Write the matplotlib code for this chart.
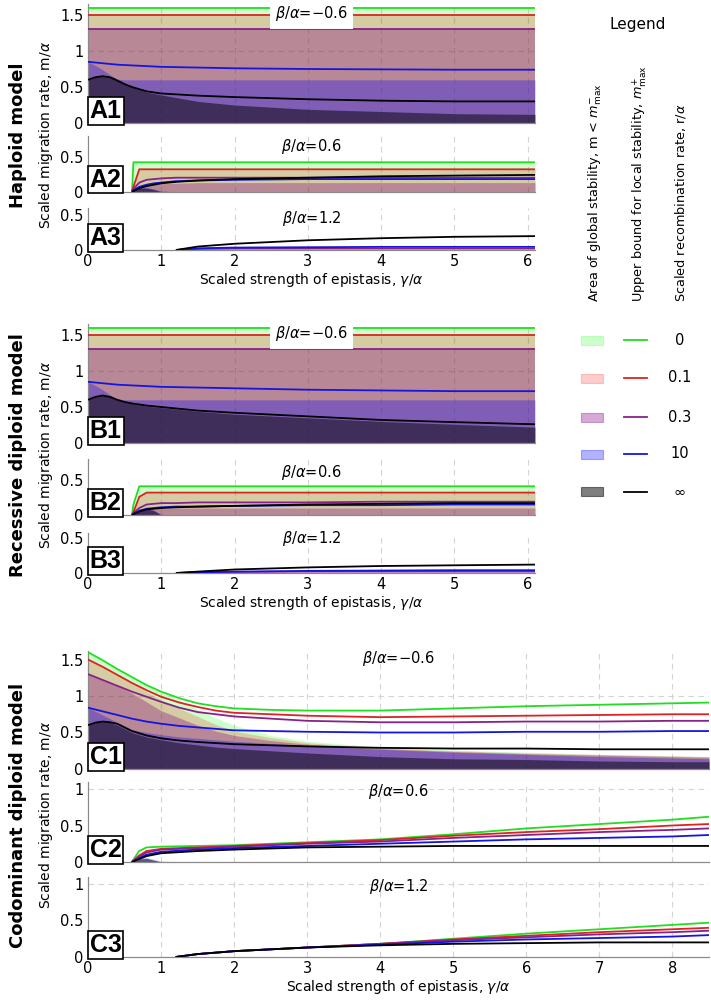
import numpy as np
import matplotlib
matplotlib.use('Agg')
import matplotlib.pyplot as plt
from matplotlib.patches import Rectangle
from matplotlib.lines import Line2D

plt.rcParams['font.family'] = ['DejaVu Sans']
plt.rcParams['mathtext.fontset'] = 'dejavusans'

# recombination rates r/alpha, order: 0, 0.1, 0.3, 10, inf
r_labels = ['0', '0.1', '0.3', '10', '\u221e']
line_colors = ['#22dd22', '#dd2222', '#882288', '#1515e0', '#000000']
fill_colors = ['#00ff00', '#ff0000', '#800080', '#0000ff', '#000000']
fill_alphas = [0.2, 0.2, 0.33, 0.3, 0.5]
nan = np.nan

# ---- haploid / recessive, beta = -0.6 ----
x_ab1 = [0, 0.1, 0.2, 0.3, 0.4, 0.5, 0.6, 0.8, 1, 1.5, 2, 3, 4, 5, 6.1]
a1_lines = [
    [1.6, 1.6, 1.6, 1.6, 1.6, 1.6, 1.6, 1.6, 1.6, 1.6, 1.6, 1.6, 1.6, 1.6, 1.6],
    [1.5, 1.5, 1.5, 1.5, 1.5, 1.5, 1.5, 1.5, 1.5, 1.5, 1.5, 1.5, 1.5, 1.5, 1.5],
    [1.3, 1.3, 1.3, 1.3, 1.3, 1.3, 1.3, 1.3, 1.3, 1.3, 1.3, 1.3, 1.3, 1.3, 1.3],
    [0.85, 0.84, 0.83, 0.82, 0.81, 0.805, 0.8, 0.79, 0.78, 0.77, 0.76, 0.75, 0.745, 0.74, 0.74],
    [0.6, 0.635, 0.65, 0.635, 0.59, 0.54, 0.5, 0.44, 0.41, 0.38, 0.36, 0.33, 0.31, 0.3, 0.3],
]
a1_fills = [
    [1.6, 1.6, 1.6, 1.6, 1.6, 1.6, 1.6, 1.6, 1.6, 1.6, 1.6, 1.6, 1.6, 1.6, 1.6],
    [1.5, 1.5, 1.5, 1.5, 1.5, 1.5, 1.5, 1.5, 1.5, 1.5, 1.5, 1.5, 1.5, 1.5, 1.5],
    [1.3, 1.3, 1.3, 1.3, 1.3, 1.3, 1.3, 1.3, 1.3, 1.3, 1.3, 1.3, 1.3, 1.3, 1.3],
    [0.85, 0.8, 0.74, 0.67, 0.61, 0.6, 0.6, 0.6, 0.6, 0.6, 0.6, 0.6, 0.6, 0.6, 0.6],
    [0.6, 0.635, 0.65, 0.635, 0.59, 0.54, 0.5, 0.43, 0.39, 0.3, 0.25, 0.19, 0.16, 0.13, 0.12],
]
b1_lines = [
    [1.6, 1.6, 1.6, 1.6, 1.6, 1.6, 1.6, 1.6, 1.6, 1.6, 1.6, 1.6, 1.6, 1.6, 1.6],
    [1.5, 1.5, 1.5, 1.5, 1.5, 1.5, 1.5, 1.5, 1.5, 1.5, 1.5, 1.5, 1.5, 1.5, 1.5],
    [1.3, 1.3, 1.3, 1.3, 1.3, 1.3, 1.3, 1.3, 1.3, 1.3, 1.3, 1.3, 1.3, 1.3, 1.3],
    [0.85, 0.84, 0.83, 0.82, 0.81, 0.805, 0.8, 0.79, 0.78, 0.77, 0.76, 0.74, 0.73, 0.72, 0.72],
    [0.6, 0.64, 0.66, 0.64, 0.6, 0.57, 0.55, 0.52, 0.5, 0.45, 0.42, 0.37, 0.32, 0.29, 0.26],
]
b1_fills = [
    [1.6, 1.6, 1.6, 1.6, 1.6, 1.6, 1.6, 1.6, 1.6, 1.6, 1.6, 1.6, 1.6, 1.6, 1.6],
    [1.5, 1.5, 1.5, 1.5, 1.5, 1.5, 1.5, 1.5, 1.5, 1.5, 1.5, 1.5, 1.5, 1.5, 1.5],
    [1.3, 1.3, 1.3, 1.3, 1.3, 1.3, 1.3, 1.3, 1.3, 1.3, 1.3, 1.3, 1.3, 1.3, 1.3],
    [0.85, 0.8, 0.74, 0.67, 0.61, 0.6, 0.6, 0.6, 0.6, 0.6, 0.6, 0.6, 0.6, 0.6, 0.6],
    [0.6, 0.64, 0.66, 0.64, 0.6, 0.57, 0.55, 0.51, 0.49, 0.44, 0.4, 0.35, 0.3, 0.26, 0.22],
]

# ---- beta = 0.6 ----
x_ab2 = [0, 0.6, 0.62, 0.7, 0.8, 0.9, 1.0, 1.2, 1.5, 2, 3, 4, 5, 6.1]
a2_lines = [
    [nan, 0, 0.42, 0.42, 0.42, 0.42, 0.42, 0.42, 0.42, 0.42, 0.42, 0.42, 0.42, 0.42],
    [nan, 0, 0.07, 0.32, 0.32, 0.32, 0.32, 0.32, 0.32, 0.32, 0.32, 0.32, 0.32, 0.32],
    [nan, 0, 0.04, 0.13, 0.17, 0.18, 0.19, 0.2, 0.2, 0.2, 0.2, 0.2, 0.2, 0.2],
    [nan, 0, 0.02, 0.07, 0.1, 0.12, 0.13, 0.15, 0.16, 0.17, 0.18, 0.18, 0.18, 0.18],
    [nan, 0, 0.01, 0.05, 0.08, 0.1, 0.12, 0.14, 0.16, 0.18, 0.2, 0.22, 0.23, 0.24],
]
a2_fills = [
    [0, 0, 0.42, 0.42, 0.42, 0.42, 0.42, 0.42, 0.42, 0.42, 0.42, 0.42, 0.42, 0.42],
    [0, 0, 0.07, 0.32, 0.32, 0.32, 0.32, 0.32, 0.32, 0.32, 0.32, 0.32, 0.32, 0.32],
    [0, 0, 0.02, 0.08, 0.1, 0.11, 0.12, 0.12, 0.13, 0.13, 0.13, 0.13, 0.13, 0.13],
    [0, 0, 0.03, 0.06, 0.06, 0.04, 0.01, 0, 0, 0, 0, 0, 0, 0],
    [0, 0, 0.02, 0.05, 0.05, 0.03, 0, 0, 0, 0, 0, 0, 0, 0],
]
b2_lines = [
    [nan, 0, 0.15, 0.41, 0.41, 0.41, 0.41, 0.41, 0.41, 0.41, 0.41, 0.41, 0.41, 0.41],
    [nan, 0, 0.04, 0.26, 0.32, 0.32, 0.32, 0.32, 0.32, 0.32, 0.32, 0.32, 0.32, 0.32],
    [nan, 0, 0.03, 0.1, 0.15, 0.16, 0.17, 0.17, 0.18, 0.18, 0.18, 0.19, 0.19, 0.19],
    [nan, 0, 0.02, 0.06, 0.09, 0.1, 0.11, 0.12, 0.12, 0.13, 0.14, 0.14, 0.15, 0.15],
    [nan, 0, 0.01, 0.05, 0.08, 0.09, 0.1, 0.11, 0.12, 0.13, 0.15, 0.16, 0.17, 0.17],
]
b2_fills = [
    [0, 0, 0.15, 0.41, 0.41, 0.41, 0.41, 0.41, 0.41, 0.41, 0.41, 0.41, 0.41, 0.41],
    [0, 0, 0.04, 0.26, 0.32, 0.32, 0.32, 0.32, 0.32, 0.32, 0.32, 0.32, 0.32, 0.32],
    [0, 0, 0.02, 0.07, 0.09, 0.1, 0.1, 0.1, 0.1, 0.1, 0.1, 0.1, 0.1, 0.1],
    [0, 0, 0.03, 0.09, 0.1, 0.07, 0.01, 0, 0, 0, 0, 0, 0, 0],
    [0, 0, 0.02, 0.08, 0.09, 0.06, 0, 0, 0, 0, 0, 0, 0, 0],
]

# ---- beta = 1.2 ----
x_ab3 = [0, 1.2, 1.5, 2, 3, 4, 5, 6.1]
a3_lines = [
    None,
    None,
    [nan, 0, 0.015, 0.02, 0.02, 0.02, 0.02, 0.02],
    [nan, 0, 0.025, 0.035, 0.04, 0.045, 0.045, 0.045],
    [nan, 0, 0.05, 0.09, 0.14, 0.17, 0.19, 0.2],
]
b3_lines = [
    None,
    None,
    [nan, 0, 0.01, 0.015, 0.02, 0.02, 0.02, 0.02],
    [nan, 0, 0.01, 0.02, 0.03, 0.035, 0.04, 0.04],
    [nan, 0, 0.02, 0.05, 0.08, 0.1, 0.11, 0.12],
]

# ---- codominant ----
x_c1 = [0, 0.1, 0.2, 0.3, 0.4, 0.6, 0.8, 1, 1.25, 1.5, 1.75, 2, 2.5, 3, 4, 5, 6, 7, 8, 8.5]
c1_lines = [
    [1.6, 1.545, 1.49, 1.43, 1.37, 1.26, 1.15, 1.06, 0.97, 0.9, 0.86, 0.83, 0.81, 0.8, 0.8,
     0.83, 0.86, 0.88, 0.9, 0.91],
    [1.5, 1.45, 1.4, 1.345, 1.29, 1.18, 1.08, 0.99, 0.91, 0.85, 0.8, 0.77, 0.75, 0.73, 0.71,
     0.72, 0.73, 0.74, 0.75, 0.75],
    [1.3, 1.26, 1.22, 1.18, 1.14, 1.06, 0.99, 0.92, 0.84, 0.78, 0.75, 0.72, 0.69, 0.66, 0.64,
     0.64, 0.65, 0.65, 0.66, 0.66],
    [0.84, 0.815, 0.79, 0.765, 0.74, 0.69, 0.65, 0.62, 0.59, 0.57, 0.55, 0.53, 0.52, 0.51, 0.5,
     0.5, 0.51, 0.51, 0.52, 0.52],
    [0.6, 0.635, 0.65, 0.64, 0.62, 0.52, 0.46, 0.42, 0.39, 0.37, 0.355, 0.34, 0.325, 0.31, 0.29,
     0.28, 0.28, 0.27, 0.27, 0.27],
]
c1_fills = [
    [1.6, 1.54, 1.48, 1.43, 1.37, 1.25, 1.15, 1.05, 0.95, 0.82, 0.7, 0.6, 0.46, 0.38, 0.3,
     0.26, 0.23, 0.2, 0.18, 0.17],
    [1.5, 1.45, 1.4, 1.345, 1.29, 1.18, 1.06, 0.95, 0.83, 0.72, 0.61, 0.52, 0.43, 0.36, 0.29,
     0.25, 0.22, 0.2, 0.18, 0.17],
    [1.3, 1.26, 1.22, 1.18, 1.14, 1.04, 0.92, 0.8, 0.7, 0.6, 0.52, 0.46, 0.39, 0.34, 0.28,
     0.24, 0.21, 0.19, 0.17, 0.16],
    [0.84, 0.79, 0.74, 0.69, 0.64, 0.54, 0.5, 0.47, 0.44, 0.42, 0.4, 0.38, 0.35, 0.32, 0.27,
     0.23, 0.2, 0.17, 0.15, 0.14],
    [0.6, 0.635, 0.65, 0.635, 0.6, 0.5, 0.44, 0.4, 0.36, 0.33, 0.3, 0.28, 0.25, 0.22, 0.17,
     0.14, 0.13, 0.11, 0.1, 0.1],
]
x_c2 = [0, 0.6, 0.7, 0.8, 1, 1.5, 2, 3, 4, 5, 6, 7, 8, 8.5]
c2_lines = [
    [nan, 0, 0.15, 0.2, 0.21, 0.22, 0.23, 0.27, 0.31, 0.38, 0.46, 0.52, 0.58, 0.62],
    [nan, 0, 0.09, 0.15, 0.18, 0.2, 0.22, 0.26, 0.3, 0.36, 0.41, 0.45, 0.5, 0.52],
    [nan, 0, 0.07, 0.13, 0.17, 0.19, 0.21, 0.25, 0.28, 0.33, 0.37, 0.41, 0.44, 0.46],
    [nan, 0, 0.05, 0.1, 0.14, 0.17, 0.19, 0.22, 0.25, 0.28, 0.31, 0.33, 0.35, 0.37],
    [nan, 0, 0.04, 0.08, 0.12, 0.15, 0.17, 0.2, 0.21, 0.22, 0.22, 0.22, 0.22, 0.22],
]
c2_fills = [
    None,
    None,
    None,
    [0, 0, 0.05, 0.06, 0.01, 0, 0, 0, 0, 0, 0, 0, 0, 0],
    [0, 0, 0.04, 0.05, 0, 0, 0, 0, 0, 0, 0, 0, 0, 0],
]
x_c3 = [0, 1.2, 1.5, 2, 3, 4, 5, 6, 7, 8, 8.5]
c3_lines = [
    [nan, 0, 0.04, 0.08, 0.13, 0.18, 0.25, 0.32, 0.38, 0.44, 0.47],
    [nan, 0, 0.04, 0.08, 0.13, 0.18, 0.24, 0.29, 0.34, 0.38, 0.4],
    [nan, 0, 0.04, 0.08, 0.13, 0.18, 0.23, 0.27, 0.31, 0.34, 0.36],
    [nan, 0, 0.04, 0.08, 0.13, 0.17, 0.21, 0.24, 0.26, 0.28, 0.3],
    [nan, 0, 0.04, 0.08, 0.13, 0.16, 0.18, 0.19, 0.2, 0.2, 0.2],
]

W, H = 711, 1000
fig = plt.figure(figsize=(7.11, 10), dpi=100)


def make_ax(left, right, y0, ymax, ppu):
    # pixel geometry -> figure fraction
    h = ymax * ppu
    return fig.add_axes([left / W, 1 - y0 / H, (right - left) / W, h / H])


def panel(ax, x, lines, fills, xmax, ymax, yticks, label, beta, bpos, boxed=False,
          xlabels=False):
    ax.set_xlim(0, xmax)
    ax.set_ylim(0, ymax)
    for gx in range(1, int(xmax) + 1):
        ax.axvline(gx, color='#d4d4d4', ls=(0, (5, 4)), lw=0.8, zorder=0)
    if ymax > 1:
        ax.axhline(1, color='#d4d4d4', ls=(0, (5, 4)), lw=0.8, zorder=0)
    if fills is not None:
        for f, c, a in zip(fills, fill_colors, fill_alphas):
            if f is not None:
                ax.fill_between(x, 0, f, color=c, alpha=a, lw=0, zorder=1)
    for l, c in zip(lines, line_colors):
        if l is not None:
            ax.plot(x, l, color=c, lw=1.3, zorder=3, solid_capstyle='butt')
    for s in ['top', 'right']:
        ax.spines[s].set_visible(False)
    for s in ['left', 'bottom']:
        ax.spines[s].set_color('#8a8a8a')
        ax.spines[s].set_linewidth(0.9)
        ax.spines[s].set_zorder(2)
    ax.set_yticks(yticks)
    ax.set_yticklabels([f'{t:g}' for t in yticks])
    ax.set_xticks(range(0, int(xmax) + 1))
    ax.tick_params(length=0, labelsize=10.5, pad=3)
    if xlabels:
        ax.set_xlabel(r'Scaled strength of epistasis, $\gamma/\alpha$', fontsize=10, labelpad=1)
    else:
        ax.set_xticklabels([])
    bbox = dict(facecolor='white', edgecolor='none', pad=4) if boxed else None
    ax.text(bpos[0], bpos[1], r'$\beta/\alpha$=' + beta, fontsize=10.5, ha='center',
            va='center', bbox=bbox, zorder=5)
    ax.text(0.004 * 6.1 / xmax, 0.0, label, transform=ax.transAxes, fontsize=18,
            fontweight='bold', family='Liberation Sans', ha='left', va='bottom',
            zorder=6, bbox=dict(facecolor='white', edgecolor='black', lw=1.2, pad=1.2))


# haploid
ax = make_ax(88, 535, 123, 1.65, 72)
panel(ax, x_ab1, a1_lines, a1_fills, 6.1, 1.65, [0, 0.5, 1, 1.5], 'A1', '\u22120.6', (3.05, 1.52), boxed=True)
ax = make_ax(88, 535, 191.7, 0.8, 70)
panel(ax, x_ab2, a2_lines, a2_fills, 6.1, 0.8, [0, 0.5], 'A2', '0.6', (3.05, 0.65))
ax = make_ax(88, 535, 250, 0.6, 69.4)
panel(ax, x_ab3, a3_lines, None, 6.1, 0.6, [0, 0.5], 'A3', '1.2', (3.05, 0.45), xlabels=True)

# recessive diploid
ax = make_ax(88, 535, 443, 1.65, 72)
panel(ax, x_ab1, b1_lines, b1_fills, 6.1, 1.65, [0, 0.5, 1, 1.5], 'B1', '\u22120.6', (3.05, 1.52), boxed=True)
ax = make_ax(88, 535, 515, 0.8, 70)
panel(ax, x_ab2, b2_lines, b2_fills, 6.1, 0.8, [0, 0.5], 'B2', '0.6', (3.05, 0.61))
ax = make_ax(88, 535, 573, 0.57, 70)
panel(ax, x_ab3, b3_lines, None, 6.1, 0.57, [0, 0.5], 'B3', '1.2', (3.05, 0.49), xlabels=True)

# codominant diploid
ax = make_ax(88, 709, 769, 1.62, 73)
panel(ax, x_c1, c1_lines, c1_fills, 8.5, 1.62, [0, 0.5, 1, 1.5], 'C1', '\u22120.6', (4.25, 1.52))
ax = make_ax(88, 709, 862, 1.1, 73)
panel(ax, x_c2, c2_lines, c2_fills, 8.5, 1.1, [0, 0.5, 1], 'C2', '0.6', (4.25, 0.96))
ax = make_ax(88, 709, 957, 1.1, 73)
panel(ax, x_c3, c3_lines, None, 8.5, 1.1, [0, 0.5, 1], 'C3', '1.2', (4.25, 0.96), xlabels=True)

# row labels
for yc, name in [(135, 'Haploid model'), (455, 'Recessive diploid model'),
                 (815, 'Codominant diploid model')]:
    fig.text(18 / W, 1 - yc / H, name, rotation=90, fontsize=13, fontweight='bold',
             ha='center', va='center')
    fig.text(46 / W, 1 - yc / H, r'Scaled migration rate, m/$\alpha$', rotation=90,
             fontsize=10, ha='center', va='center')

# legend
fig.text(638 / W, 1 - 25 / H, 'Legend', fontsize=11, ha='center', va='center')
for xc, txt in [(595, r'Area of global stability, m < $m^{-}_{\rm max}$'),
                (640, r'Upper bound for local stability, $m^{+}_{\rm max}$'),
                (681, r'Scaled recombination rate, r/$\alpha$')]:
    fig.text(xc / W, 1 - 302 / H, txt, rotation=90, fontsize=9.3, ha='center', va='bottom')
rows_y = [340, 378, 417, 454, 492]
for yy, lab, lc, fc, fa in zip(rows_y, r_labels, line_colors, fill_colors, fill_alphas):
    fig.add_artist(Rectangle((581 / W, 1 - (yy + 4.5) / H), 22 / W, 9 / H,
                             transform=fig.transFigure, facecolor=fc, alpha=fa,
                             edgecolor=fc, lw=0.8))
    fig.add_artist(Line2D([624 / W, 647 / W], [1 - yy / H, 1 - yy / H],
                          transform=fig.transFigure, color=lc, lw=1.3))
    fig.text(680 / W, 1 - yy / H, lab, fontsize=10.5, ha='center', va='center')

fig.savefig('out.png', dpi=100)
